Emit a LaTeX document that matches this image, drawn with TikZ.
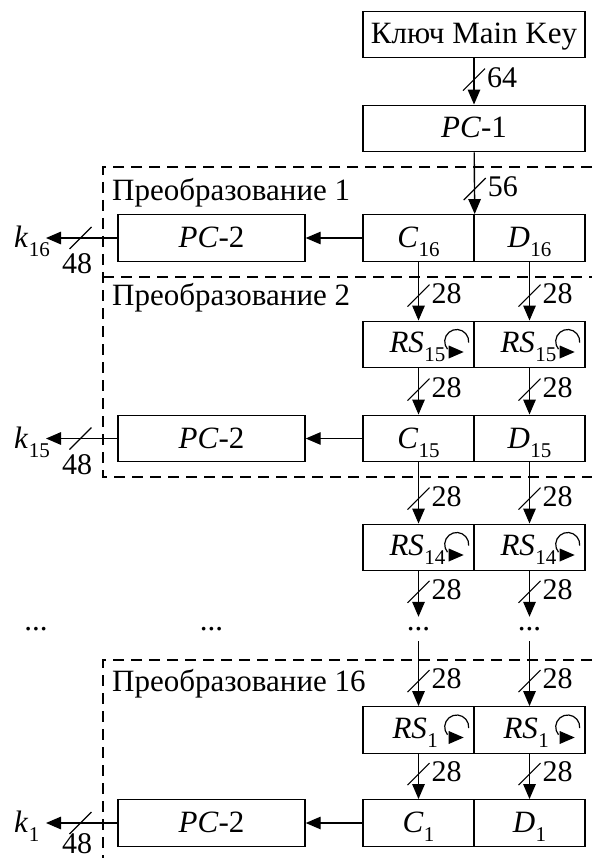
\documentclass[tikz,border=0pt]{standalone}
\usepackage{fontspec}
\setmainfont{Liberation Serif}
\usetikzlibrary{arrows.meta,calc}
\newcommand\fs{\fontsize{31}{36}\selectfont}
\newcommand\fb{\fontsize{30}{35}\selectfont}
\newcommand\sbs[1]{\kern0.5pt\raisebox{-9pt}{\fontsize{21}{21}\selectfont #1}}
\tikzset{
 box/.style={draw, line width=1.4pt, minimum height=46.5pt, inner sep=0pt, text height=19pt, text depth=0pt, font=\fs},
 lbl/.style={inner sep=0pt, font=\fs},
 blbl/.style={inner sep=0pt, font=\fb},
 dotn/.style={inner sep=0pt, minimum height=24pt, font=\fs},
 arr/.style={line width=1.4pt, -{Triangle[length=15pt,width=12.5pt]}},
 dline/.style={line width=1.4pt, dash pattern=on 11pt off 7pt},
 vbus/.pic={\draw[line width=1.1pt] (-11,11) -- (11,-11); \node[blbl, anchor=west] (-l) at (13,-2) {#1};},
 hbus/.pic={\draw[line width=1.1pt] (-11,11) -- (11,-11); \node[blbl] (-l) at (-3.5,#1) {48};},
 rot/.pic={\draw[line width=1.2pt] (-9.19,7.71) arc[start angle=220,end angle=-5,radius=12pt]; \fill (-8,4) -- (-8,17) -- (7,10.5) -- cycle;}
}
\begin{document}
\begin{tikzpicture}[x=1pt,y=-1pt]
\useasboundingbox (0,0) rectangle (592,858);
% dashed frames
\draw[dline] (592,167) -- (103,167) -- (103,477) -- (592,477);
\draw[dline] (103,277) -- (592,277);
\draw[dline] (592,660) -- (103,660) -- (103,858);
\node[lbl, anchor=base west] (t1) at (112,200.5) {Преобразование 1};
\node[lbl, anchor=base west] (t2) at (112,305.5) {Преобразование 2};
\node[lbl, anchor=base west] (t16) at (112,691.5) {Преобразование 16};
% top boxes
\node[box, minimum width=222pt] (mk) at (474,34.5) {Ключ Main Key};
\node[box, minimum width=222pt] (pc1) at (474,128.5) {\textit{PC}-1};
% row 16
\node[box, minimum width=111pt] (c16) at (418.5,238) {\textit{C}\sbs{16}};
\node[box, minimum width=111pt] (d16) at (529.5,238) {\textit{D}\sbs{16}};
\node[box, minimum width=187pt] (p16) at (211.5,238) {\textit{PC}-2};
\coordinate (k16e) at (46,238);
\node[lbl, anchor=base west] (k16) at (14,247.5) {\textit{k}\sbs{16}};
% RS15
\node[box, minimum width=111pt] (rc15) at (418.5,344.5) {};
\node[box, minimum width=111pt] (rd15) at (529.5,344.5) {};
\node[lbl, anchor=base west] (rc15t) at ([shift={(27,8)}]rc15.west) {\textit{RS}\sbs{15}};
\node[lbl, anchor=base west] (rd15t) at ([shift={(27,8)}]rd15.west) {\textit{RS}\sbs{15}};
\pic at ([shift={(-18,-3)}]rc15.east) {rot};
\pic at ([shift={(-18,-3)}]rd15.east) {rot};
% row 15
\node[box, minimum width=111pt] (c15) at (418.5,438.5) {\textit{C}\sbs{15}};
\node[box, minimum width=111pt] (d15) at (529.5,438.5) {\textit{D}\sbs{15}};
\node[box, minimum width=187pt] (p15) at (211.5,438.5) {\textit{PC}-2};
\coordinate (k15e) at (46,438.5);
\node[lbl, anchor=base west] (k15) at (14,448) {\textit{k}\sbs{15}};
% RS14
\node[box, minimum width=111pt] (rc14) at (418.5,547.5) {};
\node[box, minimum width=111pt] (rd14) at (529.5,547.5) {};
\node[lbl, anchor=base west] (rc14t) at ([shift={(27,8)}]rc14.west) {\textit{RS}\sbs{14}};
\node[lbl, anchor=base west] (rd14t) at ([shift={(27,8)}]rd14.west) {\textit{RS}\sbs{14}};
\pic at ([shift={(-18,-3)}]rc14.east) {rot};
\pic at ([shift={(-18,-3)}]rd14.east) {rot};
% dots
\node[dotn] (dc) at (418.5,629) {...};
\node[dotn] (dd) at (529.5,629) {...};
\node[dotn] (dk) at (36,629) {...};
\node[dotn] (dp) at (211.5,629) {...};
% RS1
\node[box, minimum width=111pt] (rc1) at (418.5,730) {};
\node[box, minimum width=111pt] (rd1) at (529.5,730) {};
\node[lbl, anchor=base west] (rc1t) at ([shift={(30,8)}]rc1.west) {\textit{RS}\sbs{1}};
\node[lbl, anchor=base west] (rd1t) at ([shift={(30,8)}]rd1.west) {\textit{RS}\sbs{1}};
\pic at ([shift={(-18,-3)}]rc1.east) {rot};
\pic at ([shift={(-18,-3)}]rd1.east) {rot};
% row 1
\node[box, minimum width=111pt] (c1) at (418.5,823) {\textit{C}\sbs{1}};
\node[box, minimum width=111pt] (d1) at (529.5,823) {\textit{D}\sbs{1}};
\node[box, minimum width=187pt] (p1) at (211.5,823) {\textit{PC}-2};
\coordinate (k1e) at (46,823);
\node[lbl, anchor=base west] (k1) at (14,832.5) {\textit{k}\sbs{1}};
% connectors
\draw[arr] (mk) -- (pc1);
\pic (b64) at ([yshift=25pt]pc1.north) {vbus=64};
\draw[arr] (pc1) -- (c16.north east);
\pic (b56) at ([yshift=25pt]c16.north east) {vbus=56};
\draw[arr] (c16) -- (p16);
\draw[arr] (p16) -- (k16e);
\pic (h16) at (80.5,238) {hbus=26};
\draw[arr] (c16) -- (rc15);
\draw[arr] (d16) -- (rd15);
\pic (b1) at ([yshift=25pt]rc15.north) {vbus=28};
\pic (b2) at ([yshift=25pt]rd15.north) {vbus=28};
\draw[arr] (rc15) -- (c15);
\draw[arr] (rd15) -- (d15);
\pic (b3) at ([yshift=25pt]c15.north) {vbus=28};
\pic (b4) at ([yshift=25pt]d15.north) {vbus=28};
\draw[arr] (c15) -- (p15);
\draw[arr] (p15) -- (k15e);
\pic (h15) at (80.5,438.5) {hbus=26};
\draw[arr] (c15) -- (rc14);
\draw[arr] (d15) -- (rd14);
\pic (b5) at ([yshift=25pt]rc14.north) {vbus=28};
\pic (b6) at ([yshift=25pt]rd14.north) {vbus=28};
\draw[arr] (rc14) -- (dc);
\draw[arr] (rd14) -- (dd);
\pic (b7) at ([yshift=25pt]dc.north) {vbus=28};
\pic (b8) at ([yshift=25pt]dd.north) {vbus=28};
\draw[arr] (dc) -- (rc1);
\draw[arr] (dd) -- (rd1);
\pic (b9) at ([yshift=25pt]rc1.north) {vbus=28};
\pic (b10) at ([yshift=25pt]rd1.north) {vbus=28};
\draw[arr] (rc1) -- (c1);
\draw[arr] (rd1) -- (d1);
\pic (b11) at ([yshift=25pt]c1.north) {vbus=28};
\pic (b12) at ([yshift=25pt]d1.north) {vbus=28};
\draw[arr] (c1) -- (p1);
\draw[arr] (p1) -- (k1e);
\pic (h1) at (80.5,823) {hbus=20.5};
\end{tikzpicture}
\end{document}
